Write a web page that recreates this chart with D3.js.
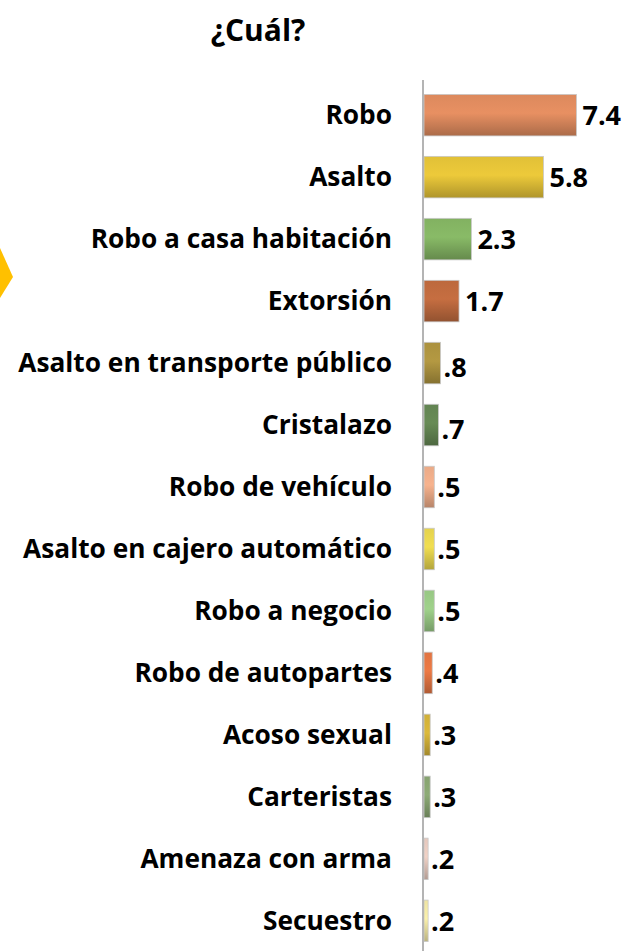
<!DOCTYPE html>
<html>
<head>
<meta charset="utf-8">
<script src="https://cdn.jsdelivr.net/npm/d3@7"></script>
<style>
  body { margin: 0; background: #fff; }
  text { font-family: "Open Sans", "DejaVu Sans", sans-serif; font-weight: bold; fill: #000; }
</style>
</head>
<body>
<script>
var w = 629, h = 951;

var categories = ["Robo", "Asalto", "Robo a casa habitación", "Extorsión",
  "Asalto en transporte público", "Cristalazo", "Robo de vehículo",
  "Asalto en cajero automático", "Robo a negocio", "Robo de autopartes",
  "Acoso sexual", "Carteristas", "Amenaza con arma", "Secuestro"];
var values = [7.4, 5.8, 2.3, 1.7, .8, .7, .5, .5, .5, .4, .3, .3, .2, .2];
var valueLabels = ["7.4", "5.8", "2.3", "1.7", ".8", ".7", ".5", ".5", ".5", ".4", ".3", ".3", ".2", ".2"];
var colors = ["#d4845a", "#d9b935", "#7dab5e", "#b5653b", "#a58c3c", "#5f7f4f",
  "#e2a482", "#dccb4a", "#92c07f", "#d9703f", "#c9a935", "#819c6c", "#dcc0b5", "#e6dc9c"];

var svg = d3.select("body").append("svg")
    .attr("width", w)
    .attr("height", h);

var defs = svg.append("defs");
colors.forEach(function (c, i) {
  var g = defs.append("linearGradient").attr("id", "g" + i)
      .attr("x1", 0).attr("y1", 0).attr("x2", 0).attr("y2", 1);
  g.append("stop").attr("offset", "0%").attr("stop-color", d3.color(c).brighter(0.1));
  g.append("stop").attr("offset", "45%").attr("stop-color", d3.color(c).brighter(0.25));
  g.append("stop").attr("offset", "100%").attr("stop-color", d3.color(c).darker(0.6));
});

var x0 = 424;
var x = d3.scaleLinear().domain([0, 1]).range([x0, x0 + 20.6]);
var y = d3.scaleBand().domain(categories).range([82, 954]).paddingInner(0.33).paddingOuter(0.2);

// yellow diamond at left edge
svg.append("polygon")
    .attr("points", "-30,277 0,248 13,277 0,298")
    .attr("fill", "#ffc000");

svg.append("text")
    .attr("x", 258).attr("y", 41)
    .attr("text-anchor", "middle")
    .style("font-size", "30px")
    .text("¿Cuál?");

svg.selectAll(".bar").data(values).enter().append("rect")
    .attr("class", "bar")
    .attr("x", x0)
    .attr("y", function (d, i) { return y(categories[i]); })
    .attr("width", function (d) { return x(d) - x0; })
    .attr("height", y.bandwidth())
    .attr("fill", function (d, i) { return "url(#g" + i + ")"; })
    .attr("stroke", "#c8c8c8")
    .attr("stroke-width", 0.8);

svg.append("line")
    .attr("x1", x0 - 1).attr("x2", x0 - 1)
    .attr("y1", 80).attr("y2", h)
    .attr("stroke", "#b4b4b4")
    .attr("stroke-width", 2);

var cats = svg.selectAll(".cat").data(categories).enter().append("text")
    .attr("class", "cat")
    .attr("x", 392)
    .attr("y", function (d) { return y(d) + y.bandwidth() / 2; })
    .attr("dy", "0.35em")
    .attr("text-anchor", "end")
    .style("font-size", "20px")
    .text(function (d) { return d; });

// fit longest label to the original width
var longest = d3.max(cats.nodes(), function (n) { return n.getComputedTextLength(); });
var fs = 20 * 374 / longest;
cats.style("font-size", fs + "px");

svg.selectAll(".val").data(values).enter().append("text")
    .attr("class", "val")
    .attr("x", function (d) { return x(d) + (d < 1 ? 3 : 6); })
    .attr("y", function (d, i) { return y(categories[i]) + y.bandwidth() / 2 + (d < 1 && d > 0.6 ? 4 : 0); })
    .attr("dy", "0.36em")
    .style("font-size", "27px")
    .text(function (d, i) { return valueLabels[i]; });
</script>
</body>
</html>
